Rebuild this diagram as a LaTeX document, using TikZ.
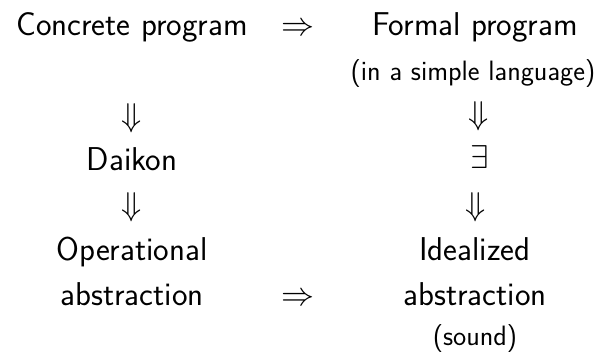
\RequirePackage{fix-cm}
\documentclass[tikz,border=0pt]{standalone}
\begin{document}
\begin{tikzpicture}[x=1pt,y=1pt,
  big/.style={font=\fontsize{33}{45}\selectfont\sffamily, inner sep=0pt, anchor=base, align=center},
  small/.style={font=\fontsize{28}{32}\selectfont\sffamily, inner sep=0pt, anchor=base},
  sym/.style={font=\fontsize{33}{40}\selectfont, inner sep=0pt}]
\useasboundingbox (0,0) rectangle (612,360);
\node[big] (cp) at (132,325) {Concrete program};
\node[big] (r1) at (298,325) {$\Rightarrow$};
\node[big] (fp) at (475,325) {Formal program};
\node[small] (sl) at (473,280) {(in a simple language)};
\node[sym] (d1) at (132,242) {$\Downarrow$};
\node[big] (dk) at (132,190) {Daikon};
\node[sym] (d2) at (132,153) {$\Downarrow$};
\node[big] (op) at (132,55) {Operational\\abstraction};
\node[big] (r2) at (298,55) {$\Rightarrow$};
\node[sym] (d3) at (479,244) {$\Downarrow$};
\node[sym] (ex) at (480,203) {$\exists$};
\node[sym] (d4) at (476,153) {$\Downarrow$};
\node[big] (id) at (475,55) {Idealized\\abstraction};
\node[small] (snd) at (475,15) {(sound)};
\end{tikzpicture}
\end{document}
